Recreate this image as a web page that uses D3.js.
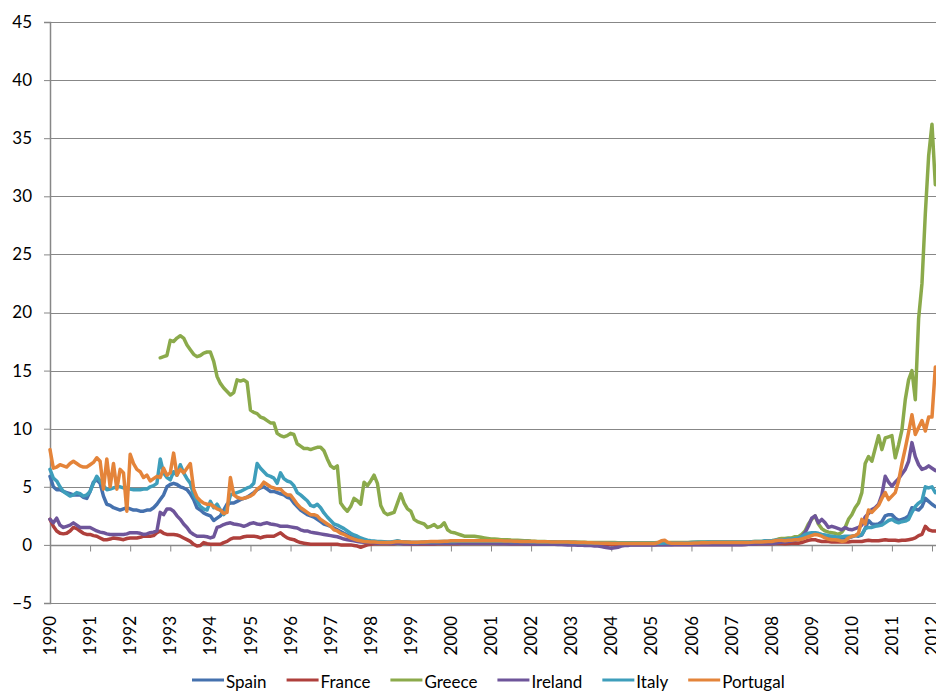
<!DOCTYPE html>
<html><head><meta charset="utf-8">
<script src="https://cdn.jsdelivr.net/npm/d3@7/dist/d3.min.js"></script>
<style>body{margin:0;background:#fff}svg{display:block}text{font-family:Lato,"Open Sans",sans-serif;fill:#000}</style>
</head><body>
<svg id="chart" width="936" height="691"></svg>
<script>
// Monthly observations starting January 1990
const startYear = 1990;
const yearLabels = [1990,1991,1992,1993,1994,1995,1996,1997,1998,1999,2000,2001,2002,2003,2004,2005,2006,2007,2008,2009,2010,2011,2012];
const yTickValues = [-5,0,5,10,15,20,25,30,35,40,45];
const seriesNames = ["Spain","France","Greece","Ireland","Italy","Portugal"];

const spain = [
5.9,5.0,4.75,4.75,4.6,4.5,4.4,4.3,4.3,4.3,4.1,4.0,
4.6,5.4,5.6,5.3,4.2,3.5,3.4,3.2,3.1,3.0,3.1,3.2,
3.1,3.0,3.0,2.9,2.9,3.0,3.0,3.2,3.5,3.9,4.3,5.0,
5.2,5.3,5.2,5.0,4.9,4.75,4.4,3.9,3.2,3.0,2.75,2.6,
2.5,2.1,2.3,2.5,3.0,3.5,3.6,3.6,3.75,3.9,4.0,4.1,
4.3,4.5,4.75,4.9,5.0,4.8,4.6,4.6,4.5,4.4,4.3,4.1,
4.0,3.6,3.3,3.0,2.8,2.6,2.5,2.4,2.2,2.0,1.8,1.7,
1.6,1.45,1.3,1.15,1.0,0.85,0.7,0.6,0.5,0.4,0.35,0.3,
0.3,0.28,0.25,0.22,0.2,0.2,0.2,0.25,0.3,0.28,0.25,0.2,
0.2,0.2,0.2,0.2,0.22,0.25,0.25,0.25,0.25,0.25,0.25,0.28,
0.28,0.3,0.3,0.3,0.3,0.3,0.3,0.3,0.3,0.3,0.3,0.3,
0.3,0.3,0.3,0.3,0.3,0.28,0.28,0.28,0.25,0.25,0.25,0.22,
0.2,0.2,0.2,0.18,0.15,0.15,0.12,0.12,0.1,0.1,0.1,0.1,
0.1,0.08,0.08,0.05,0.05,0.05,0.05,0.05,0.05,0.03,0.03,0.03,
0.02,0.02,0.02,0.02,0.02,0.03,0.03,0.03,0.03,0.03,0.03,0.03,
0.03,0.03,0.03,0.04,0.04,0.04,0.04,0.05,0.05,0.05,0.05,0.05,
0.05,0.05,0.05,0.05,0.05,0.05,0.05,0.05,0.05,0.05,0.05,0.05,
0.05,0.05,0.05,0.05,0.08,0.08,0.1,0.12,0.15,0.15,0.18,0.2,
0.22,0.28,0.35,0.35,0.35,0.4,0.45,0.45,0.45,0.5,0.7,0.9,
0.95,1.0,0.95,0.8,0.7,0.65,0.6,0.6,0.6,0.6,0.6,0.6,
0.7,0.8,0.75,0.85,1.4,2.1,1.8,1.75,1.8,2.0,2.5,2.6,
2.6,2.3,2.1,2.2,2.3,2.5,3.2,3.1,3.0,3.3,4.0,3.75,
3.5,3.3];

const france = [
2.2,1.6,1.2,1.0,0.95,1.0,1.2,1.5,1.4,1.2,1.0,0.9,
0.9,0.8,0.75,0.6,0.45,0.45,0.5,0.6,0.55,0.5,0.45,0.55,
0.6,0.6,0.6,0.65,0.75,0.75,0.75,0.8,1.05,1.2,1.0,0.9,
0.9,0.9,0.85,0.75,0.6,0.45,0.3,0.05,-0.1,-0.05,0.2,0.1,
0.05,0.05,0.05,0.05,0.2,0.3,0.5,0.6,0.6,0.6,0.7,0.75,
0.75,0.75,0.7,0.6,0.7,0.75,0.75,0.75,0.9,1.05,0.8,0.6,
0.5,0.45,0.3,0.2,0.15,0.1,0.05,0.05,0.05,0.05,0.05,0.05,
0.05,0.05,0.05,0.0,0.0,0.0,0.0,-0.05,-0.1,-0.2,-0.1,0.0,
0.05,0.1,0.1,0.1,0.1,0.1,0.1,0.1,0.15,0.15,0.1,0.1,
0.08,0.08,0.08,0.08,0.08,0.08,0.08,0.08,0.1,0.1,0.1,0.1,
0.1,0.1,0.1,0.12,0.12,0.12,0.12,0.12,0.12,0.12,0.12,0.12,
0.12,0.12,0.12,0.12,0.12,0.12,0.1,0.1,0.1,0.1,0.1,0.1,
0.08,0.08,0.08,0.08,0.08,0.08,0.08,0.06,0.06,0.06,0.06,0.06,
0.05,0.05,0.05,0.05,0.05,0.05,0.05,0.05,0.05,0.05,0.05,0.05,
0.03,0.03,0.03,0.03,0.03,0.03,0.03,0.03,0.03,0.03,0.03,0.03,
0.03,0.03,0.03,0.03,0.03,0.03,0.03,0.03,0.03,0.03,0.03,0.03,
0.03,0.03,0.03,0.03,0.03,0.03,0.03,0.03,0.03,0.03,0.03,0.03,
0.03,0.03,0.03,0.03,0.03,0.05,0.05,0.08,0.1,0.1,0.1,0.1,
0.1,0.12,0.15,0.12,0.1,0.12,0.15,0.15,0.15,0.2,0.3,0.4,
0.45,0.45,0.35,0.3,0.3,0.3,0.25,0.25,0.25,0.25,0.25,0.25,
0.3,0.3,0.3,0.3,0.35,0.4,0.35,0.35,0.35,0.4,0.45,0.4,
0.4,0.4,0.35,0.4,0.4,0.45,0.5,0.6,0.8,0.9,1.6,1.3,
1.2,1.2];

const greece = [
null,null,null,null,null,null,null,null,null,null,null,null,
null,null,null,null,null,null,null,null,null,null,null,null,
null,null,null,null,null,null,null,null,null,16.1,16.2,16.3,
17.6,17.5,17.8,18.0,17.8,17.2,16.8,16.4,16.2,16.3,16.5,16.6,
16.6,15.8,14.5,13.9,13.5,13.2,12.9,13.1,14.2,14.1,14.2,14.0,
11.6,11.4,11.3,11.0,10.9,10.7,10.5,10.5,9.6,9.4,9.3,9.4,
9.6,9.5,8.7,8.5,8.3,8.3,8.2,8.3,8.4,8.4,8.1,7.4,
6.8,6.6,6.8,3.6,3.2,2.9,3.3,4.0,3.8,3.5,5.4,5.1,
5.5,6.0,5.3,3.4,2.8,2.6,2.7,2.8,3.6,4.4,3.6,3.1,
2.9,2.2,2.0,1.9,1.8,1.5,1.6,1.75,1.5,1.6,1.9,1.3,
1.1,1.05,0.95,0.85,0.75,0.75,0.75,0.75,0.7,0.65,0.6,0.55,
0.5,0.5,0.48,0.45,0.45,0.45,0.42,0.4,0.4,0.38,0.36,0.35,
0.33,0.32,0.3,0.3,0.3,0.28,0.28,0.28,0.26,0.26,0.25,0.25,
0.25,0.24,0.23,0.22,0.22,0.2,0.2,0.2,0.2,0.2,0.2,0.2,
0.2,0.2,0.18,0.18,0.18,0.18,0.18,0.18,0.18,0.18,0.18,0.18,
0.18,0.18,0.2,0.2,0.2,0.2,0.2,0.2,0.2,0.2,0.2,0.2,
0.22,0.22,0.25,0.25,0.25,0.25,0.25,0.25,0.25,0.25,0.25,0.25,
0.25,0.25,0.25,0.25,0.25,0.25,0.28,0.3,0.3,0.3,0.32,0.32,
0.35,0.4,0.5,0.55,0.55,0.6,0.6,0.7,0.7,0.9,1.2,1.8,
2.2,2.5,1.8,1.4,1.2,1.1,1.05,1.0,0.9,1.1,1.5,2.2,
2.6,3.2,3.6,4.5,7.0,7.6,7.2,8.3,9.4,8.2,9.2,9.3,
9.4,7.5,8.6,9.9,12.5,14.2,15.0,12.5,19.5,22.5,28.5,33.5,
36.2,31.0];

const ireland = [
2.2,1.9,2.3,1.7,1.5,1.6,1.7,1.9,1.7,1.5,1.5,1.5,
1.5,1.35,1.2,1.1,1.05,0.95,0.9,0.9,0.9,0.9,0.9,0.95,
1.05,1.05,1.05,1.0,0.9,0.95,1.05,1.1,1.2,2.8,2.6,3.1,
3.1,2.9,2.5,2.2,1.8,1.5,1.1,0.9,0.75,0.75,0.75,0.7,
0.6,0.7,1.5,1.6,1.75,1.85,1.9,1.8,1.75,1.7,1.6,1.7,
1.85,1.9,1.8,1.75,1.85,1.9,1.8,1.75,1.7,1.6,1.6,1.6,
1.55,1.5,1.45,1.3,1.2,1.2,1.1,1.05,1.0,0.95,0.9,0.85,
0.8,0.75,0.7,0.6,0.5,0.45,0.4,0.35,0.3,0.25,0.22,0.2,
0.2,0.18,0.15,0.15,0.15,0.15,0.12,0.15,0.15,0.12,0.1,0.1,
0.1,0.1,0.1,0.12,0.12,0.12,0.12,0.12,0.15,0.15,0.15,0.15,
0.15,0.15,0.15,0.15,0.15,0.15,0.15,0.15,0.15,0.15,0.15,0.15,
0.15,0.15,0.12,0.12,0.12,0.1,0.1,0.1,0.1,0.1,0.08,0.08,
0.08,0.08,0.05,0.05,0.05,0.05,0.05,0.05,0.03,0.03,0.02,0.0,
0.0,0.0,-0.02,-0.02,-0.05,-0.05,-0.05,-0.1,-0.1,-0.15,-0.2,-0.25,
-0.3,-0.25,-0.2,-0.1,-0.05,-0.05,0.0,0.0,0.0,0.0,0.0,0.0,
0.0,0.0,0.02,0.02,0.02,0.02,0.02,0.02,0.02,0.02,0.02,0.02,
0.02,0.02,0.02,0.02,0.02,0.02,0.02,0.02,0.02,0.02,0.02,0.02,
0.02,0.02,0.02,0.02,0.03,0.05,0.05,0.08,0.1,0.1,0.1,0.12,
0.12,0.15,0.2,0.25,0.25,0.3,0.35,0.4,0.5,0.7,1.05,1.6,
2.3,2.5,1.9,2.2,1.9,1.5,1.6,1.5,1.4,1.3,1.5,1.35,
1.3,1.4,1.5,1.7,2.4,2.7,3.05,3.2,3.5,4.3,5.9,5.4,
5.05,5.4,5.7,6.1,6.5,7.2,8.8,7.6,6.9,6.5,6.6,6.8,
6.6,6.4];

const italy = [
6.5,5.75,5.5,5.0,4.6,4.4,4.2,4.3,4.5,4.4,4.2,4.3,
4.6,5.3,5.9,5.5,5.1,4.75,4.8,4.9,5.0,5.0,4.9,4.9,
4.8,4.75,4.75,4.75,4.8,4.8,5.0,5.1,5.3,7.4,6.2,5.8,
5.6,6.3,6.0,6.9,6.2,5.7,5.3,4.3,3.8,3.3,3.1,3.0,
3.75,3.2,3.5,3.0,2.6,3.2,4.3,4.4,4.5,4.6,4.75,4.9,
5.0,5.3,7.0,6.6,6.3,6.0,5.9,5.75,5.3,6.2,5.7,5.5,
5.4,5.1,4.5,4.3,4.05,3.8,3.4,3.3,3.5,3.2,2.75,2.4,
2.1,1.8,1.7,1.55,1.4,1.2,1.0,0.85,0.75,0.6,0.5,0.4,
0.35,0.33,0.3,0.3,0.28,0.25,0.25,0.3,0.35,0.3,0.28,0.25,
0.22,0.2,0.2,0.22,0.25,0.25,0.28,0.28,0.28,0.3,0.3,0.3,
0.3,0.3,0.32,0.32,0.32,0.32,0.32,0.32,0.32,0.32,0.32,0.32,
0.32,0.32,0.32,0.32,0.32,0.32,0.3,0.3,0.3,0.3,0.3,0.3,
0.28,0.28,0.27,0.26,0.25,0.25,0.24,0.24,0.23,0.22,0.22,0.22,
0.2,0.2,0.2,0.18,0.18,0.18,0.17,0.16,0.16,0.15,0.15,0.15,
0.15,0.15,0.15,0.15,0.15,0.15,0.15,0.15,0.15,0.15,0.15,0.15,
0.15,0.15,0.15,0.15,0.16,0.16,0.16,0.17,0.17,0.17,0.18,0.18,
0.2,0.22,0.22,0.23,0.23,0.24,0.24,0.25,0.25,0.25,0.25,0.25,
0.25,0.25,0.25,0.25,0.25,0.25,0.28,0.3,0.3,0.3,0.35,0.35,
0.35,0.4,0.45,0.45,0.45,0.5,0.5,0.55,0.6,0.7,0.9,1.0,
1.05,1.05,1.0,0.9,0.85,0.8,0.75,0.7,0.65,0.7,0.75,0.75,
0.75,0.8,0.8,0.9,1.4,1.5,1.5,1.6,1.65,1.7,1.9,2.1,
2.2,2.0,1.9,2.0,2.05,2.2,2.8,3.3,3.6,3.8,5.0,4.9,
5.0,4.5];

const portugal = [
8.2,6.6,6.7,6.9,6.8,6.7,7.0,7.2,7.0,6.8,6.7,6.7,
6.9,7.1,7.5,7.2,4.8,7.4,5.0,7.0,4.8,6.5,6.2,2.9,
7.8,7.0,6.5,6.3,5.8,6.0,5.5,5.7,5.9,5.8,6.6,6.0,
6.2,7.9,6.0,6.5,6.2,6.6,7.0,4.8,4.1,3.8,3.6,3.5,
3.5,3.3,3.1,3.0,2.7,2.8,5.8,4.3,4.1,4.0,4.0,4.1,
4.2,4.4,4.8,5.0,5.4,5.2,5.0,4.9,4.8,4.8,4.5,4.3,
4.3,3.9,3.5,3.2,3.0,2.8,2.6,2.6,2.5,2.2,2.0,1.8,
1.6,1.3,1.2,1.0,0.9,0.75,0.6,0.5,0.4,0.35,0.3,0.28,
0.25,0.25,0.22,0.2,0.2,0.2,0.2,0.25,0.3,0.28,0.25,0.25,
0.22,0.22,0.22,0.25,0.25,0.28,0.3,0.3,0.3,0.3,0.32,0.32,
0.35,0.35,0.35,0.35,0.35,0.35,0.35,0.35,0.35,0.35,0.35,0.35,
0.35,0.35,0.35,0.35,0.33,0.33,0.33,0.32,0.32,0.3,0.3,0.3,
0.3,0.3,0.28,0.28,0.27,0.27,0.26,0.26,0.25,0.25,0.25,0.25,
0.22,0.22,0.2,0.2,0.2,0.18,0.18,0.17,0.16,0.15,0.15,0.15,
0.12,0.12,0.12,0.12,0.12,0.12,0.12,0.12,0.12,0.12,0.12,0.12,
0.12,0.12,0.2,0.35,0.4,0.2,0.15,0.14,0.15,0.15,0.15,0.15,
0.15,0.16,0.17,0.18,0.18,0.18,0.2,0.2,0.2,0.2,0.2,0.2,
0.2,0.2,0.2,0.2,0.2,0.2,0.22,0.25,0.25,0.25,0.28,0.3,
0.3,0.35,0.4,0.4,0.35,0.4,0.4,0.45,0.45,0.5,0.6,0.7,
0.8,0.9,0.85,0.75,0.6,0.5,0.45,0.45,0.4,0.3,0.35,0.6,
0.75,0.8,1.0,2.2,1.8,3.0,2.8,3.1,3.4,4.0,4.5,3.9,
4.2,4.5,5.5,7.0,8.3,9.7,11.2,9.5,10.1,10.7,9.8,11.0,
11.0,15.3];

const seriesColors = ["#4571AE","#AF403C","#8BAA4B","#6E559A","#3E9EBB","#E4843A"];
const allSeries = [spain, france, greece, ireland, italy, portugal];

const svg = d3.select("#chart");
const gridColor = "#878787";
const x = d3.scaleLinear().domain([1990, 2012]).range([50, 932]);
const y = d3.scaleLinear().domain([-5, 45]).range([603, 22]);
const W = 936;

// horizontal gridlines
svg.append("g").selectAll("line").data(yTickValues).join("line")
  .attr("x1", x(1990)).attr("x2", W)
  .attr("y1", d => Math.round(y(d)) + 0.5).attr("y2", d => Math.round(y(d)) + 0.5)
  .attr("stroke", gridColor).attr("stroke-width", 1);

// y axis (left)
const yAxis = svg.append("g").attr("transform", `translate(${x(1990)},0)`)
  .call(d3.axisLeft(y).tickValues(yTickValues).tickSize(6).tickPadding(12).tickFormat(d3.format("d")));
yAxis.select(".domain").attr("stroke", gridColor).attr("stroke-width", 1.5);
yAxis.selectAll(".tick line").attr("stroke", gridColor);
yAxis.selectAll(".tick text").attr("font-size", 17).attr("font-family", "Lato, 'Open Sans', sans-serif").attr("fill", "#000");

// x axis crossing at 0 with tick marks
const xAxis = svg.append("g").attr("transform", `translate(0,${Math.round(y(0)) + 0.5})`)
  .call(d3.axisBottom(x).tickValues(yearLabels).tickSize(6).tickFormat(""));
xAxis.select(".domain").attr("stroke", gridColor).attr("stroke-width", 1.5).attr("d", `M${x(1990)},0H${W}`);
xAxis.selectAll(".tick line").attr("stroke", gridColor);

// year labels at bottom, rotated
svg.append("g").selectAll("text").data(yearLabels).join("text")
  .attr("transform", d => `translate(${x(d)},616) rotate(-90)`)
  .attr("text-anchor", "end").attr("dy", "0.36em")
  .attr("font-size", 17)
  .text(d => d);

// lines
const dates = d3.range(spain.length).map(i => startYear + i / 12);
const line = d3.line().defined(d => d[1] != null)
  .x(d => x(d[0])).y(d => y(d[1]));
allSeries.forEach((vals, k) => {
  svg.append("path")
    .datum(vals.map((v, i) => [dates[i], v]))
    .attr("fill", "none").attr("stroke", seriesColors[k]).attr("stroke-width", 3.5)
    .attr("stroke-linejoin", "round").attr("stroke-linecap", "round")
    .attr("d", line);
});

// legend
const legend = svg.append("g");
let lx = 192;
seriesNames.forEach((name, k) => {
  legend.append("line").attr("x1", lx).attr("x2", lx + 32).attr("y1", 680).attr("y2", 680)
    .attr("stroke", seriesColors[k]).attr("stroke-width", 3);
  const t = legend.append("text").attr("x", lx + 34).attr("y", 688).attr("font-size", 17).text(name);
  lx += 34 + t.node().getComputedTextLength() + 20;
});
</script>
</body></html>
